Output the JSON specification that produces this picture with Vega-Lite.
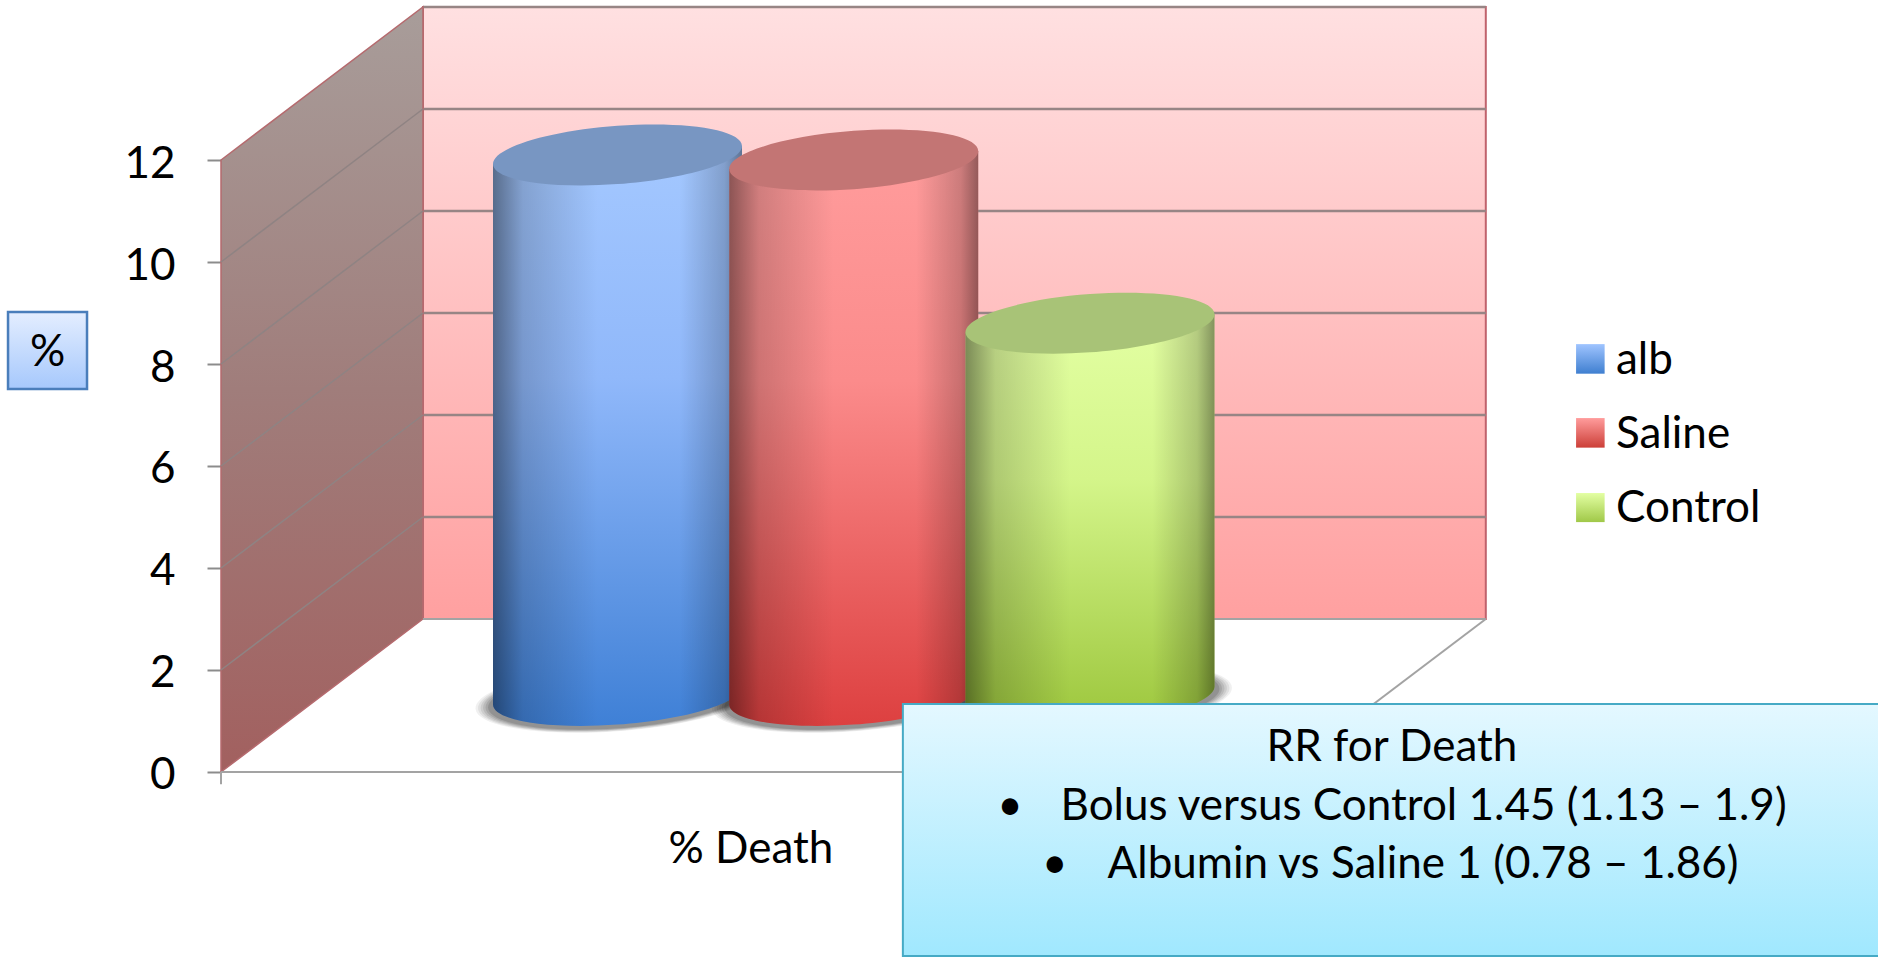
{"$schema":"https://vega.github.io/schema/vega-lite/v6.json","width":1878,"height":957,"autosize":{"type":"none"},"padding":0,"background":"white","config":{"view":{"stroke":null},"axis":{"grid":false},"axisX":{"disable":true},"font":"Lato"},"datasets":{"bars":[{"group":"alb","percent":10.6},{"group":"Saline","percent":10.5},{"group":"Control","percent":7.3}],"ticks":[{"tick":0,"frontX":0,"backX":3.96,"rightX":24.8,"backY":3},{"tick":2,"frontX":0,"backX":3.96,"rightX":24.8,"backY":5},{"tick":4,"frontX":0,"backX":3.96,"rightX":24.8,"backY":7},{"tick":6,"frontX":0,"backX":3.96,"rightX":24.8,"backY":9},{"tick":8,"frontX":0,"backX":3.96,"rightX":24.8,"backY":11},{"tick":10,"frontX":0,"backX":3.96,"rightX":24.8,"backY":13},{"tick":12,"frontX":0,"backX":3.96,"rightX":24.8,"backY":15}]},"layer":[{"layer":[{"data":{"values":[{"x":3.96,"x2":24.8,"y":3,"y2":15}]},"mark":{"type":"rect","fill":{"gradient":"linear","x1":0,"y1":0,"x2":0,"y2":1,"stops":[{"offset":0,"color":"#ffe0e1"},{"offset":1,"color":"#ffa0a0"}]},"stroke":"#c0626c","strokeWidth":2},"encoding":{"x":{"field":"x","type":"quantitative","scale":{"domain":[-4.3333,32.4902],"nice":false,"zero":false},"axis":null},"x2":{"field":"x2"},"y":{"field":"y","type":"quantitative","scale":{"domain":[-3.6275,15.1373],"nice":false,"zero":false},"axis":{"values":[0,2,4,6,8,10,12],"offset":-221,"title":null,"domain":false,"tickSize":14,"tickWidth":2,"tickColor":"#8c8c8c","labelFontSize":44,"labelColor":"#000000","labelFont":"Lato","labelPadding":32,"labelOffset":4}},"y2":{"field":"y2"}}},{"data":{"name":"ticks"},"transform":[{"filter":"datum.tick>0"}],"mark":{"type":"rule","stroke":"#978585","strokeWidth":2.5},"encoding":{"x":{"field":"backX","type":"quantitative"},"x2":{"field":"rightX"},"y":{"field":"backY","type":"quantitative"}}},{"data":{"values":[{"x":0,"low":0,"high":12},{"x":3.96,"low":3,"high":15}]},"mark":{"type":"area","fill":{"gradient":"linear","x1":0,"y1":0,"x2":0,"y2":1,"stops":[{"offset":0,"color":"#a89d9a"},{"offset":0.5,"color":"#a07d7b"},{"offset":1,"color":"#a2605f"}]},"stroke":"#b56a6e","strokeWidth":1.5},"encoding":{"x":{"field":"x","type":"quantitative"},"y":{"field":"low","type":"quantitative"},"y2":{"field":"high"}}},{"data":{"name":"ticks"},"transform":[{"filter":"datum.tick>0 && datum.tick<12"}],"mark":{"type":"rule","stroke":"#8f8383","strokeWidth":1.5},"encoding":{"x":{"field":"frontX","type":"quantitative"},"x2":{"field":"backX"},"y":{"field":"tick","type":"quantitative"},"y2":{"field":"backY"}}},{"data":{"values":[{"x":3.96,"x2":24.8,"y":3,"y2":3},{"x":0,"x2":20.84,"y":0,"y2":0},{"x":20.84,"x2":24.8,"y":0,"y2":3},{"x":0,"x2":0,"y":0,"y2":-0.24}]},"mark":{"type":"rule","stroke":"#a3a3a3","strokeWidth":2},"encoding":{"x":{"field":"x","type":"quantitative"},"x2":{"field":"x2"},"y":{"field":"y","type":"quantitative"},"y2":{"field":"y2"}}}]},{"data":{"name":"bars"},"encoding":{"x":{"field":"group","type":"nominal","sort":null,"scale":{"type":"point","domain":["alb","Saline","Control"],"range":[617.5,1090],"padding":0},"axis":null},"y":{"field":"percent","type":"quantitative"}},"layer":[{"mark":{"type":"point","filled":true,"shape":"M1,-0.0723C1,0.0569 0.5523,0.1941 0,0.234C-0.5523,0.2739 -1,0.2015 -1,0.0723C-1,-0.0569 -0.5523,-0.1941 0,-0.234C0.5523,-0.2739 1,-0.2015 1,-0.0723Z","size":80580,"fill":"#000000","opacity":0.06,"yOffset":-74},"encoding":{"y":{"datum":0}}},{"mark":{"type":"point","filled":true,"shape":"M1,-0.0723C1,0.0569 0.5523,0.1941 0,0.234C-0.5523,0.2739 -1,0.2015 -1,0.0723C-1,-0.0569 -0.5523,-0.1941 0,-0.234C0.5523,-0.2739 1,-0.2015 1,-0.0723Z","size":77780,"fill":"#000000","opacity":0.07,"yOffset":-74},"encoding":{"y":{"datum":0}}},{"mark":{"type":"point","filled":true,"shape":"M1,-0.0723C1,0.0569 0.5523,0.1941 0,0.234C-0.5523,0.2739 -1,0.2015 -1,0.0723C-1,-0.0569 -0.5523,-0.1941 0,-0.234C0.5523,-0.2739 1,-0.2015 1,-0.0723Z","size":75020,"fill":"#000000","opacity":0.08,"yOffset":-74},"encoding":{"y":{"datum":0}}},{"mark":{"type":"point","filled":true,"shape":"M1,-0.0723C1,0.0569 0.5523,0.1941 0,0.234C-0.5523,0.2739 -1,0.2015 -1,0.0723C-1,-0.0569 -0.5523,-0.1941 0,-0.234C0.5523,-0.2739 1,-0.2015 1,-0.0723Z","size":72320,"fill":"#000000","opacity":0.09,"yOffset":-74},"encoding":{"y":{"datum":0}}},{"mark":{"type":"point","filled":true,"shape":"M1,-0.0723C1,0.0569 0.5523,0.1941 0,0.234C-0.5523,0.2739 -1,0.2015 -1,0.0723C-1,-0.0569 -0.5523,-0.1941 0,-0.234C0.5523,-0.2739 1,-0.2015 1,-0.0723Z","size":69670,"fill":"#000000","opacity":0.1,"yOffset":-74},"encoding":{"y":{"datum":0}}},{"mark":{"type":"point","filled":true,"shape":"M1,-0.0723C1,0.0569 0.5523,0.1941 0,0.234C-0.5523,0.2739 -1,0.2015 -1,0.0723C-1,-0.0569 -0.5523,-0.1941 0,-0.234C0.5523,-0.2739 1,-0.2015 1,-0.0723Z","size":67060,"fill":"#000000","opacity":0.12,"yOffset":-74},"encoding":{"y":{"datum":0}}},{"transform":[{"filter":"datum.group==='alb'"}],"mark":{"type":"point","filled":true,"opacity":1,"size":62001,"yOffset":-76.5,"shape":"M1,-0.0723L1,4.2697C1,4.3989 0.5523,4.5361 0,4.576C-0.5523,4.6159 -1,4.5435 -1,4.4143L-1,0.0723Z","fill":{"gradient":"linear","x1":0,"y1":0,"x2":0,"y2":1,"stops":[{"offset":0,"color":"#a4c8ff"},{"offset":0.4,"color":"#90b8fa"},{"offset":1,"color":"#3f80d6"}]}}},{"transform":[{"filter":"datum.group==='alb'"}],"mark":{"type":"point","filled":true,"opacity":1,"size":62001,"yOffset":-76.5,"shape":"M1,-0.0723L1,4.2697C1,4.3989 0.5523,4.5361 0,4.576C-0.5523,4.6159 -1,4.5435 -1,4.4143L-1,0.0723Z","fill":{"gradient":"linear","x1":0,"y1":0,"x2":1,"y2":0,"stops":[{"offset":0,"color":"rgba(0,0,0,0.45)"},{"offset":0.12,"color":"rgba(0,0,0,0.18)"},{"offset":0.42,"color":"rgba(0,0,0,0)"},{"offset":0.75,"color":"rgba(0,0,0,0)"},{"offset":0.93,"color":"rgba(0,0,0,0.2)"},{"offset":1,"color":"rgba(0,0,0,0.42)"}]}}},{"transform":[{"filter":"datum.group==='Saline'"}],"mark":{"type":"point","filled":true,"opacity":1,"size":62001,"yOffset":-76.5,"shape":"M1,-0.0723L1,4.2287C1,4.3579 0.5523,4.4951 0,4.535C-0.5523,4.5749 -1,4.5025 -1,4.3733L-1,0.0723Z","fill":{"gradient":"linear","x1":0,"y1":0,"x2":0,"y2":1,"stops":[{"offset":0,"color":"#ff9c9c"},{"offset":0.4,"color":"#fb8b8b"},{"offset":1,"color":"#dd4040"}]}}},{"transform":[{"filter":"datum.group==='Saline'"}],"mark":{"type":"point","filled":true,"opacity":1,"size":62001,"yOffset":-76.5,"shape":"M1,-0.0723L1,4.2287C1,4.3579 0.5523,4.4951 0,4.535C-0.5523,4.5749 -1,4.5025 -1,4.3733L-1,0.0723Z","fill":{"gradient":"linear","x1":0,"y1":0,"x2":1,"y2":0,"stops":[{"offset":0,"color":"rgba(0,0,0,0.45)"},{"offset":0.12,"color":"rgba(0,0,0,0.18)"},{"offset":0.42,"color":"rgba(0,0,0,0)"},{"offset":0.75,"color":"rgba(0,0,0,0)"},{"offset":0.93,"color":"rgba(0,0,0,0.2)"},{"offset":1,"color":"rgba(0,0,0,0.42)"}]}}},{"transform":[{"filter":"datum.group==='Control'"}],"mark":{"type":"point","filled":true,"opacity":1,"size":62001,"yOffset":-76.5,"shape":"M1,-0.0723L1,2.9177C1,3.0469 0.5523,3.1841 0,3.224C-0.5523,3.2639 -1,3.1915 -1,3.0623L-1,0.0723Z","fill":{"gradient":"linear","x1":0,"y1":0,"x2":0,"y2":1,"stops":[{"offset":0,"color":"#e3ffa3"},{"offset":0.4,"color":"#d4f58a"},{"offset":1,"color":"#9cc63c"}]}}},{"transform":[{"filter":"datum.group==='Control'"}],"mark":{"type":"point","filled":true,"opacity":1,"size":62001,"yOffset":-76.5,"shape":"M1,-0.0723L1,2.9177C1,3.0469 0.5523,3.1841 0,3.224C-0.5523,3.2639 -1,3.1915 -1,3.0623L-1,0.0723Z","fill":{"gradient":"linear","x1":0,"y1":0,"x2":1,"y2":0,"stops":[{"offset":0,"color":"rgba(0,0,0,0.45)"},{"offset":0.12,"color":"rgba(0,0,0,0.18)"},{"offset":0.42,"color":"rgba(0,0,0,0)"},{"offset":0.75,"color":"rgba(0,0,0,0)"},{"offset":0.93,"color":"rgba(0,0,0,0.2)"},{"offset":1,"color":"rgba(0,0,0,0.42)"}]}}},{"mark":{"type":"point","filled":true,"opacity":1,"size":62001,"yOffset":-76.5,"shape":"M1,-0.0723C1,0.0569 0.5523,0.1941 0,0.234C-0.5523,0.2739 -1,0.2015 -1,0.0723C-1,-0.0569 -0.5523,-0.1941 0,-0.234C0.5523,-0.2739 1,-0.2015 1,-0.0723Z"},"encoding":{"color":{"field":"group","type":"nominal","scale":{"domain":["alb","Saline","Control"],"range":["#7896c2","#c37574","#a8c377"]},"legend":{"orient":"none","legendX":1569.5,"legendY":339,"title":null,"symbolType":"square","symbolSize":756,"symbolStrokeWidth":0,"symbolOpacity":0,"labelFontSize":44,"labelFont":"Lato","labelColor":"#000000","labelOffset":2.5,"rowPadding":30,"values":["alb","Saline","Control"]}}}}]},{"layer":[{"data":{"values":[{"x":-4.176,"x2":-2.627,"y":9.02,"y2":7.51}]},"mark":{"type":"rect","fill":"#000000","opacity":0.25,"xOffset":2,"yOffset":4},"encoding":{"x":{"field":"x","type":"quantitative","scale":{"domain":[-4.3333,32.4902],"nice":false,"zero":false},"axis":null},"x2":{"field":"x2"},"y":{"field":"y","type":"quantitative"},"y2":{"field":"y2"}}},{"data":{"values":[{"x":-4.176,"x2":-2.627,"y":9.02,"y2":7.51}]},"mark":{"type":"rect","fill":{"gradient":"linear","x1":0,"y1":0,"x2":0,"y2":1,"stops":[{"offset":0,"color":"#e4eeff"},{"offset":1,"color":"#a6c8fc"}]},"stroke":"#4a7ebb","strokeWidth":2.5},"encoding":{"x":{"field":"x","type":"quantitative"},"x2":{"field":"x2"},"y":{"field":"y","type":"quantitative"},"y2":{"field":"y2"}}},{"data":{"values":[{"x":13.37,"x2":32.7,"y":1.333,"y2":-3.608}]},"mark":{"type":"rect","fill":{"gradient":"linear","x1":0,"y1":0,"x2":0,"y2":1,"stops":[{"offset":0,"color":"#e4f8ff"},{"offset":1,"color":"#a0e8fe"}]},"stroke":"#46aac5","strokeWidth":2},"encoding":{"x":{"field":"x","type":"quantitative"},"x2":{"field":"x2"},"y":{"field":"y","type":"quantitative"},"y2":{"field":"y2"}}},{"data":{"values":[{"x":26.57,"x2":27.13,"y":8.39,"y2":7.81}]},"mark":{"type":"rect","fill":{"gradient":"linear","x1":0,"y1":0,"x2":0,"y2":1,"stops":[{"offset":0,"color":"#9fc4ff"},{"offset":1,"color":"#3f7fd0"}]}},"encoding":{"x":{"field":"x","type":"quantitative"},"x2":{"field":"x2"},"y":{"field":"y","type":"quantitative"},"y2":{"field":"y2"}}},{"data":{"values":[{"x":26.57,"x2":27.13,"y":6.94,"y2":6.36}]},"mark":{"type":"rect","fill":{"gradient":"linear","x1":0,"y1":0,"x2":0,"y2":1,"stops":[{"offset":0,"color":"#ff9c9c"},{"offset":1,"color":"#cc3f38"}]}},"encoding":{"x":{"field":"x","type":"quantitative"},"x2":{"field":"x2"},"y":{"field":"y","type":"quantitative"},"y2":{"field":"y2"}}},{"data":{"values":[{"x":26.57,"x2":27.13,"y":5.47,"y2":4.9}]},"mark":{"type":"rect","fill":{"gradient":"linear","x1":0,"y1":0,"x2":0,"y2":1,"stops":[{"offset":0,"color":"#e3ffa3"},{"offset":1,"color":"#a0c848"}]}},"encoding":{"x":{"field":"x","type":"quantitative"},"x2":{"field":"x2"},"y":{"field":"y","type":"quantitative"},"y2":{"field":"y2"}}},{"data":{"values":[{"label":"%","x":-3.40,"y":8.21},{"label":"% Death","x":10.39,"y":-1.53},{"label":"RR for Death","x":22.96,"y":0.47},{"label":"•","x":15.47,"y":-0.69},{"label":"Bolus versus Control 1.45 (1.13 – 1.9)","x":23.58,"y":-0.69},{"label":"•","x":16.35,"y":-1.825},{"label":"Albumin vs Saline 1 (0.78 – 1.86)","x":23.57,"y":-1.825}]},"mark":{"type":"text","font":"Lato","fontSize":44,"color":"#000000","align":"center","baseline":"middle"},"encoding":{"x":{"field":"x","type":"quantitative"},"y":{"field":"y","type":"quantitative"},"text":{"field":"label"}}}]}],"resolve":{"scale":{"x":"independent"}}}
